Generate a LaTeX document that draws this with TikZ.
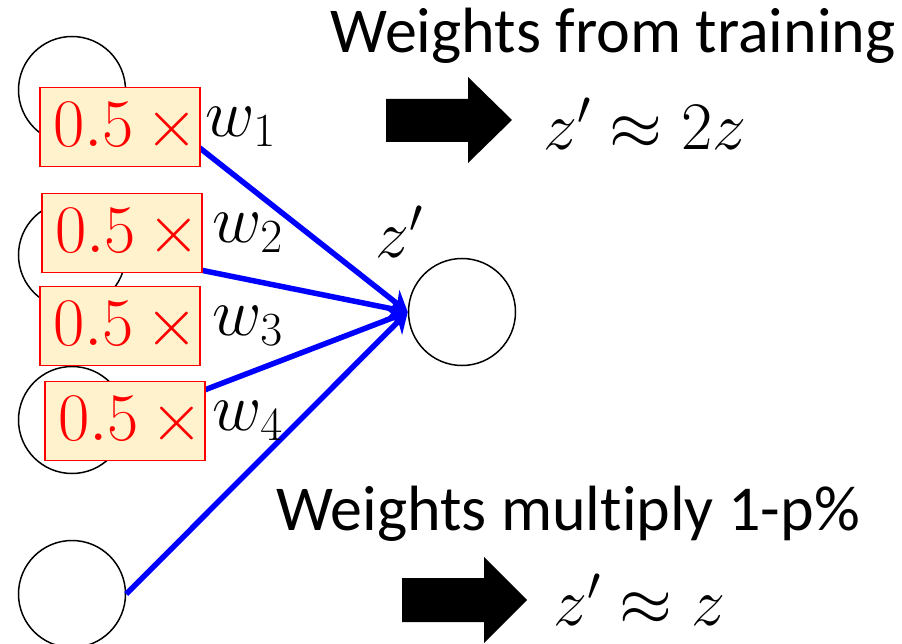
\documentclass[tikz,border=0pt]{standalone}
\RequirePackage{fix-cm}
\usepackage[no-math]{fontspec}
\setmainfont{Carlito}[Ligatures=NoCommon]
\usepackage{xcolor}
\usepackage{tikz}
\usetikzlibrary{arrows.meta,positioning}
\definecolor{WireBlue}{RGB}{0,0,255}
\definecolor{DropRed}{RGB}{255,0,0}
\definecolor{DropFill}{RGB}{255,242,204}

\tikzset{
    neuron/.style={circle, draw=black, line width=1.5pt, minimum size=107pt, inner sep=0pt},
    wire/.style={draw=WireBlue, line width=5.5pt, -{Stealth[length=20pt, width=24pt]}},
    dropbox/.style={draw=DropRed, fill=DropFill, line width=1.2pt, text=DropRed, minimum width=160pt, minimum height=79pt, inner sep=0pt, font=\fontsize{68}{68}\selectfont},
    weightlabel/.style={inner sep=0pt, font=\fontsize{68}{68}\selectfont},
    bigtext/.style={inner sep=0pt, font=\fontsize{64}{70}\selectfont},
}

\begin{document}
\begin{tikzpicture}[x=1pt, y=-1pt]
    \useasboundingbox (0,0) rectangle (902,644);

    % Input and output neurons
    \node[neuron] (in1) at (72,90) {};
    \node[neuron] (in2) at (72,255) {};
    \node[neuron] (in3) at (72,420) {};
    \node[neuron] (in4) at (72,594) {};
    \node[neuron] (out) at (462,312) {};

    % Connections into the output neuron
    \draw[wire] (in1.east) -- (out.west);
    \draw[wire] (in2.east) -- (out.west);
    \draw[wire] (in3.east) -- (out.west);
    \draw[wire] (in4.east) -- (out.west);

    % Scaled weights at test time
    \node[dropbox] (b1) at (120,127) {$0.5\,\mathbin{\times}\!$};
    \node[dropbox] (b2) at (122,233) {$0.5\,\mathbin{\times}\!$};
    \node[dropbox] (b3) at (120,326) {$0.5\,\mathbin{\times}\!$};
    \node[dropbox] (b4) at (125,421) {$0.5\,\mathbin{\times}\!$};
    \node[weightlabel, right=5pt of b1] (w1) {$w_1$};
    \node[weightlabel, right=10pt of b2] (w2) {$w_2$};
    \node[weightlabel, right=12pt of b3] (w3) {$w_3$};
    \node[weightlabel, right=7pt of b4] (w4) {$w_4$};
    \node[weightlabel] (zp) at (399,232) {$z'$};

    % Training case
    \node[bigtext] (train) at (613,36) {Weights from training};
    \fill (386,99) -- (468,99) -- (468,77) -- (512,120) -- (468,163) -- (468,142) -- (386,142) -- cycle;
    \node[weightlabel, anchor=west] (res1) at (543,124) {$z'\approx 2z$};

    % Test case
    \node[bigtext] (test) at (568,514) {Weights multiply 1-p\%};
    \fill (402,578) -- (484,578) -- (484,557) -- (527,600) -- (484,643) -- (484,622) -- (402,622) -- cycle;
    \node[weightlabel, anchor=west] (res2) at (553,600) {$z'\approx z$};
\end{tikzpicture}
\end{document}
